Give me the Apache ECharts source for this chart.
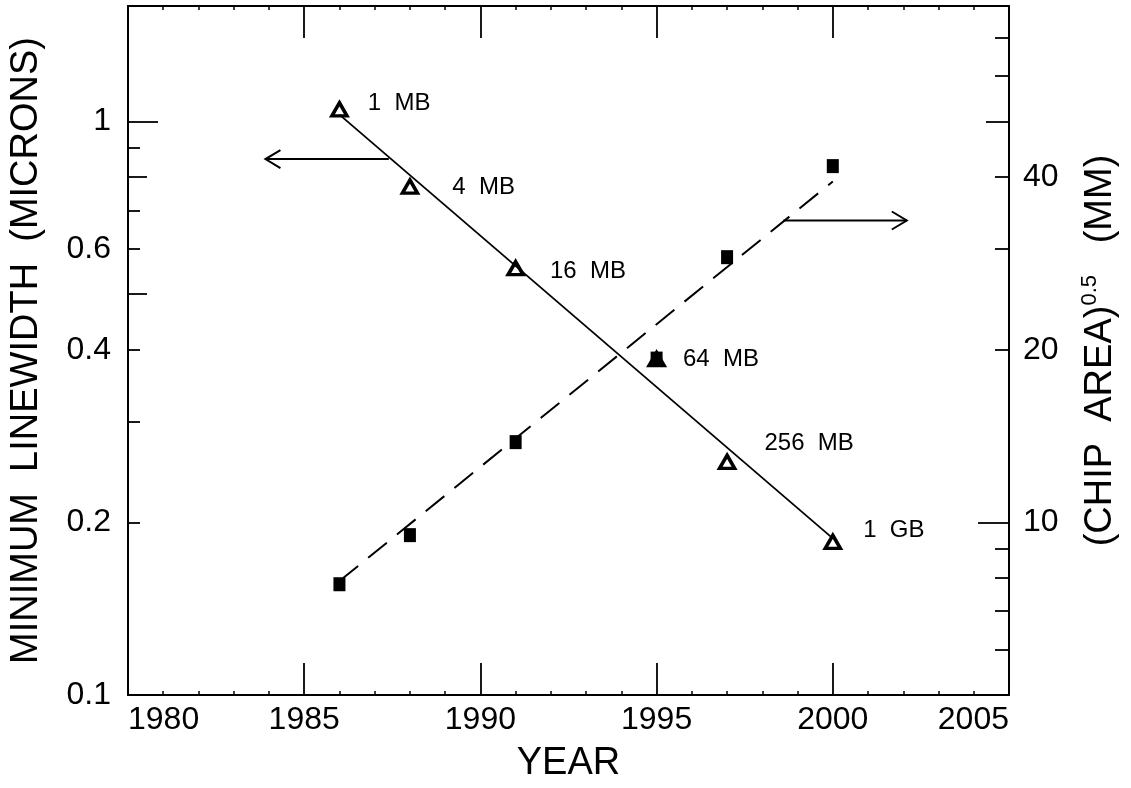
<!DOCTYPE html>
<html>
<head>
<meta charset="utf-8">
<script src="https://cdn.jsdelivr.net/npm/echarts@6/dist/echarts.min.js"></script>
<style>
  html, body { margin: 0; padding: 0; background: #fff; }
  #chart { width: 1131px; height: 788px; }
</style>
</head>
<body>
<div id="chart"></div>
<script>
// ---- data ----
const years = [1986, 1988, 1991, 1995, 1997, 2000];
const linewidth = [1.05, 0.77, 0.555, 0.385, 0.255, 0.185];   // microns (left axis)
const chipSize = [7.8, 9.5, 13.8, 19.3, 29.0, 41.8];          // (chip area)^0.5, mm (right axis)
const memLabels = ['1  MB', '4  MB', '16  MB', '64  MB', '256  MB', '1  GB'];
const fitYears = [1986, 2000];
const fitLinewidth = [1.028, 0.1875];
const fitChip = [7.9, 39.3];
const arrowLeft = [1987.4, 0.86, 1983.9, 0.86];     // from (x,y) to (x,y) on left axis
const arrowRight = [1998.6, 33.6, 2002.1, 33.6];    // on right axis
const xRange = [1980, 2005];
const leftRange = [0.1, 1.59];
const rightRange = [5, 79.5];
const leftLabels = [0.1, 0.2, 0.4, 0.6, 1];
const leftTicksShort = [0.2, 0.3, 0.4, 0.6, 0.7, 0.9];
const leftTicksMid = [0.5, 0.8];
const leftTicksLong = [1];
const rightLabels = [10, 20, 40];
const rightTicksShort = [6, 7, 8, 9, 20, 30, 40, 60, 70];
const rightTicksMid = [50];
const rightTicksLong = [10];

// ---- layout / style ----
const FONT = '"Liberation Sans", Arial, sans-serif';
const labelNudge = [[14, -6], [28, 1], [20, 3], [12, 0], [23, -18], [16, -11]];

const chart = echarts.init(document.getElementById('chart'), null, { renderer: 'canvas' });

function yAxisDef(pos, range, opts) {
  return Object.assign({
    type: 'log', logBase: 10, position: pos, min: range[0], max: range[1],
    splitLine: { show: false },
    axisLine: { show: false },
    axisLabel: { show: false },
    axisTick: { show: false }
  }, opts);
}
function tickDef(values, len) {
  return { show: true, inside: true, length: len, customValues: values,
           lineStyle: { color: '#000', width: 1.8 } };
}

const xAxisCommon = {
  type: 'value', min: xRange[0], max: xRange[1], interval: 5,
  splitLine: { show: false },
  axisLine: { show: true, onZero: false, lineStyle: { color: '#000', width: 2 } },
  axisTick: { show: true, inside: true, length: 32, lineStyle: { color: '#000', width: 1.8 } },
  minorTick: { show: true, splitNumber: 5, length: 4, lineStyle: { color: '#000', width: 1.5 } }
};

function arrowRender(params, api) {
  const p1 = api.coord([api.value(0), api.value(1)]);
  const p2 = api.coord([api.value(2), api.value(3)]);
  const dx = p2[0] - p1[0], dy = p2[1] - p1[1];
  const L = Math.sqrt(dx * dx + dy * dy) || 1;
  const ux = dx / L, uy = dy / L;
  const hl = 15, hw = 9;
  const bx = p2[0] - ux * hl, by = p2[1] - uy * hl;
  return {
    type: 'group',
    children: [
      { type: 'line', shape: { x1: p1[0], y1: p1[1], x2: p2[0], y2: p2[1] },
        style: { stroke: '#000', lineWidth: 2 } },
      { type: 'polyline',
        shape: { points: [[bx - uy * hw, by + ux * hw], [p2[0], p2[1]], [bx + uy * hw, by - ux * hw]] },
        style: { stroke: '#000', lineWidth: 2, fill: null } }
    ]
  };
}

const option = {
  backgroundColor: '#fff',
  animation: false,
  textStyle: { fontFamily: FONT, color: '#000' },
  grid: { left: 127, right: 121, top: 6, bottom: 91, containLabel: false },
  xAxis: [
    Object.assign({}, xAxisCommon, {
      position: 'bottom',
      name: 'YEAR', nameLocation: 'middle', nameGap: 50,
      nameTextStyle: { fontSize: 38, color: '#000', fontFamily: FONT },
      axisLabel: { show: true, fontSize: 32, color: '#000', margin: 9, fontFamily: FONT,
                   alignMinLabel: 'left', alignMaxLabel: 'right',
                   formatter: v => String(Math.round(v)) }
    }),
    Object.assign({}, xAxisCommon, {
      position: 'top',
      axisLabel: { show: false }
    })
  ],
  yAxis: [
    yAxisDef('left', leftRange, {
      axisLine: { show: true, onZero: false, lineStyle: { color: '#000', width: 2 } },
      axisLabel: { show: true, customValues: leftLabels, fontSize: 32, color: '#000', margin: 17,
                   fontFamily: FONT, formatter: v => String(+v.toPrecision(3)) },
      axisTick: tickDef(leftTicksShort, 12),
      name: 'MINIMUM  LINEWIDTH  (MICRONS)', nameLocation: 'middle', nameRotate: 90, nameGap: 82,
      nameTextStyle: { fontSize: 38, color: '#000', fontFamily: FONT }
    }),
    yAxisDef('left', leftRange, { axisTick: tickDef(leftTicksMid, 19) }),
    yAxisDef('left', leftRange, { axisTick: tickDef(leftTicksLong, 30) }),
    yAxisDef('right', rightRange, {
      axisLine: { show: true, onZero: false, lineStyle: { color: '#000', width: 2 } },
      axisLabel: { show: true, customValues: rightLabels, fontSize: 32, color: '#000', margin: 14,
                   fontFamily: FONT, formatter: v => String(Math.round(v)) },
      axisTick: tickDef(rightTicksShort, 14),
      name: '(CHIP  AREA){sup|0.5}   (MM)', nameLocation: 'middle', nameRotate: 90, nameGap: 70,
      nameTextStyle: {
        fontSize: 38, color: '#000', fontFamily: FONT, lineHeight: 44,
        rich: { sup: { fontSize: 22, color: '#000', fontFamily: FONT, verticalAlign: 'top', lineHeight: 44 } }
      }
    }),
    yAxisDef('right', rightRange, { axisTick: tickDef(rightTicksMid, 23) }),
    yAxisDef('right', rightRange, { axisTick: tickDef(rightTicksLong, 31) })
  ],
  series: [
    {
      type: 'line', xAxisIndex: 0, yAxisIndex: 0, showSymbol: false, silent: true,
      data: fitYears.map((y, i) => [y, fitLinewidth[i]]),
      lineStyle: { color: '#000', width: 1.8, type: 'solid' }, z: 2
    },
    {
      type: 'line', xAxisIndex: 0, yAxisIndex: 3, showSymbol: false, silent: true,
      data: fitYears.map((y, i) => [y, fitChip[i]]),
      lineStyle: { color: '#000', width: 2, type: [24, 13] }, z: 2
    },
    {
      type: 'scatter', xAxisIndex: 0, yAxisIndex: 3, symbol: 'rect', symbolSize: [12, 14],
      data: years.map((y, i) => [y, chipSize[i]]),
      itemStyle: { color: '#000', opacity: 1 }, z: 3
    },
    {
      type: 'scatter', xAxisIndex: 0, yAxisIndex: 0, symbol: 'triangle', symbolSize: [15, 13],
      data: years.map((y, i) => ({
        value: [y, linewidth[i]],
        label: { offset: labelNudge[i] }
      })),
      itemStyle: { color: 'rgba(0,0,0,0)', borderColor: '#000', borderWidth: 3.5, opacity: 1 },
      label: {
        show: true, position: 'right', distance: 5,
        formatter: p => memLabels[p.dataIndex],
        fontSize: 24, color: '#000', fontFamily: FONT, opacity: 1
      }, z: 4
    },
    {
      type: 'custom', xAxisIndex: 0, yAxisIndex: 0, silent: true,
      renderItem: arrowRender, encode: { x: [0, 2], y: [1, 3] },
      data: [arrowLeft], z: 5
    },
    {
      type: 'custom', xAxisIndex: 0, yAxisIndex: 3, silent: true,
      renderItem: arrowRender, encode: { x: [0, 2], y: [1, 3] },
      data: [arrowRight], z: 5
    }
  ]
};
chart.setOption(option);
</script>
</body>
</html>
